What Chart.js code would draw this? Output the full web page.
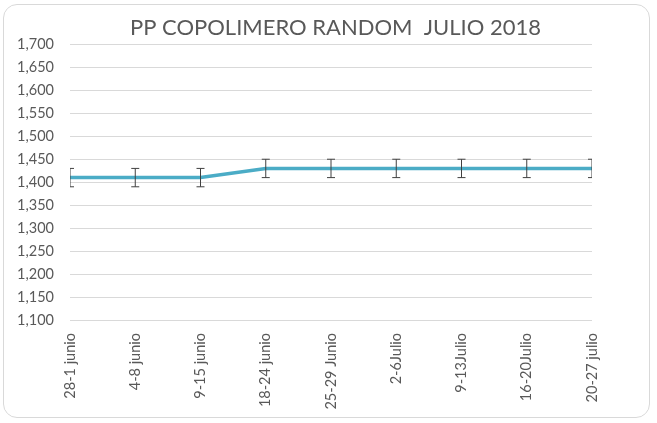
<!DOCTYPE html>
<html>
<head>
<meta charset="utf-8">
<script src="https://cdn.jsdelivr.net/npm/chart.js@4/dist/chart.umd.min.js"></script>
<style>
  html, body { margin: 0; padding: 0; background: #fff; }
  #wrap { position: relative; width: 657px; height: 423px; }
  #frame {
    position: absolute; left: 3px; top: 4px; width: 645px; height: 412px;
    border: 1px solid #d9d9d9; border-radius: 14px; pointer-events: none;
  }
</style>
</head>
<body>
<div id="wrap">
  <canvas id="chart" width="657" height="423"></canvas>
  <div id="frame"></div>
</div>
<script>
const semanas = ["28-1 junio", "4-8 junio", "9-15 junio", "18-24 junio", "25-29 Junio", "2-6Julio", "9-13Julio", "16-20Julio", "20-27 julio"];
const precios = [1410, 1410, 1410, 1430, 1430, 1430, 1430, 1430, 1430];
const errores = [20, 20, 20, 20, 20, 20, 20, 20, 20];
const yMin = 1100, yMax = 1700, yPaso = 50;

const fuente = "Lato, 'Open Sans', sans-serif";

// barras de error
const barrasError = {
  id: "barrasError",
  afterDatasetsDraw(chart) {
    const ctx = chart.ctx;
    const y = chart.scales.y;
    const meta = chart.getDatasetMeta(0);
    const area = chart.chartArea;
    ctx.save();
    ctx.beginPath();
    ctx.rect(area.left, area.top - 20, area.right - area.left, area.bottom - area.top + 40);
    ctx.clip();
    ctx.strokeStyle = "#404040";
    ctx.lineWidth = 1;
    meta.data.forEach(function (p, i) {
      const top = y.getPixelForValue(precios[i] + errores[i]);
      const bot = y.getPixelForValue(precios[i] - errores[i]);
      ctx.beginPath();
      ctx.moveTo(p.x, top); ctx.lineTo(p.x, bot);
      ctx.moveTo(p.x - 4, top); ctx.lineTo(p.x + 4, top);
      ctx.moveTo(p.x - 4, bot); ctx.lineTo(p.x + 4, bot);
      ctx.stroke();
    });
    ctx.restore();
  }
};

new Chart(document.getElementById("chart"), {
  type: "line",
  data: {
    labels: semanas,
    datasets: [{
      data: precios,
      borderColor: "#4bacc6",
      borderWidth: 3.5,
      pointRadius: 0,
      tension: 0
    }]
  },
  options: {
    responsive: false,
    animation: false,
    layout: { padding: { left: 14, right: 0, bottom: 12, top: 0 } },
    plugins: {
      legend: { display: false },
      tooltip: { enabled: false },
      title: {
        display: true,
        text: "PP COPOLIMERO RANDOM  JULIO 2018",
        color: "#595959",
        font: { family: fuente, size: 22, weight: "normal" },
        padding: { top: 15, bottom: 3 }
      }
    },
    scales: {
      x: {
        offset: false,
        grid: { display: false },
        border: { display: false },
        ticks: {
          color: "#595959",
          font: { family: fuente, size: 14.5 },
          maxRotation: 90, minRotation: 90,
          autoSkip: false,
          padding: 5
        },
        afterFit(s) { s.height = 91; }
      },
      y: {
        min: yMin, max: yMax,
        grid: { color: "#d9d9d9", lineWidth: 1, drawTicks: false },
        border: { display: false },
        ticks: {
          stepSize: yPaso,
          color: "#595959",
          font: { family: fuente, size: 14.5 },
          padding: 16,
          callback: function (v) { return v.toLocaleString("en-US"); }
        },
        afterFit(s) { s.width = 56; }
      },
      derecha: {
        position: "right",
        min: 0, max: 1,
        grid: { display: false },
        border: { display: false },
        ticks: { display: false },
        afterFit(s) { s.width = 65; }
      }
    }
  },
  plugins: [barrasError]
});
</script>
</body>
</html>
